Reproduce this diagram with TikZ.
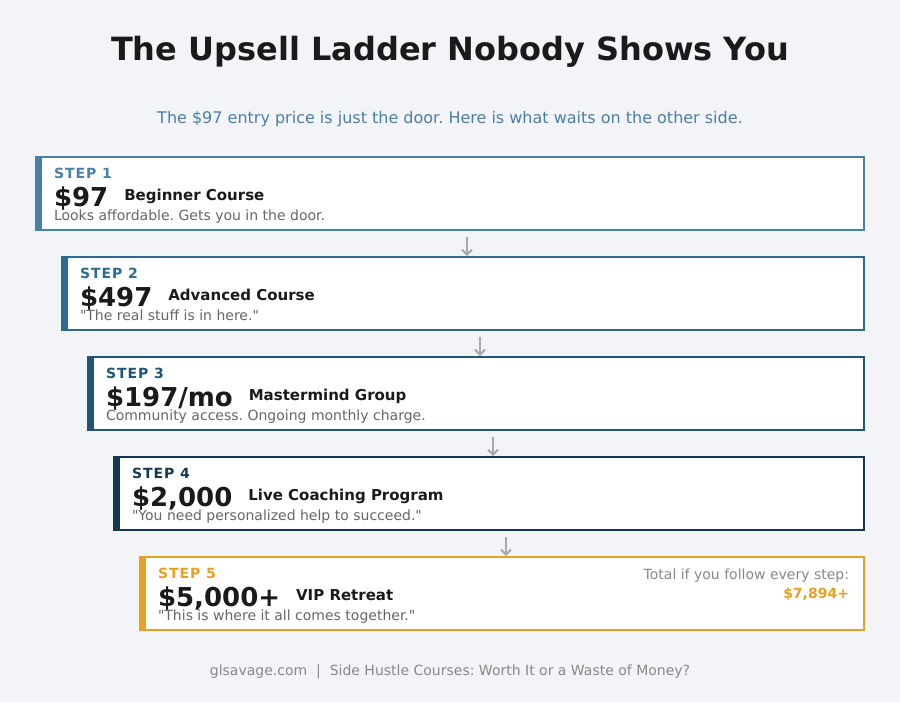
\documentclass[tikz,border=0pt]{standalone}
\usepackage{fontspec}
\setmainfont{DejaVu Sans}
\usetikzlibrary{positioning,arrows.meta}

\definecolor{pagebg}{HTML}{F2F4F7}
\definecolor{inkdark}{HTML}{1A1A1A}
\definecolor{subblue}{HTML}{4A7FA8}
\definecolor{stepone}{HTML}{4A7FA8}
\definecolor{steptwo}{HTML}{2D6A8F}
\definecolor{stepthree}{HTML}{1F5577}
\definecolor{stepfour}{HTML}{15374F}
\definecolor{stepfive}{HTML}{E8A020}
\definecolor{notegray}{HTML}{666666}
\definecolor{footgray}{HTML}{888888}
\definecolor{arrowgray}{HTML}{AAAAAA}

\def\fsz#1{\fontsize{#1}{#1}\selectfont}
\def\qq{\textquotedbl}
\frenchspacing

\begin{document}
\begin{tikzpicture}[x=1pt, y=-1pt,
    every node/.style={inner sep=0pt, outer sep=0pt},
    card/.style={draw=#1, fill=white, line width=1.5pt, anchor=north west,
                 minimum height=73pt, rectangle},
    steplabel/.style={anchor=base west, text=#1, font=\fsz{14}\bfseries\addfontfeature{LetterSpace=7}},
    price/.style={anchor=base west, text=inkdark, font=\fsz{26}\bfseries},
    course/.style={anchor=base west, text=inkdark, font=\fsz{15}\bfseries},
    note/.style={anchor=base west, text=notegray, font=\fsz{14}},
    flow/.style={draw=arrowgray, line width=2pt, -{Straight Barb[length=5pt, width=10pt, line width=2pt]}}]

  % page
  \fill[pagebg] (0,0) rectangle (900,702);
  \useasboundingbox (0,0) rectangle (900,702);

  % heading
  \node[anchor=base, text=inkdark, font=\fsz{32}\bfseries] (title) at (450,60) {The Upsell Ladder Nobody Shows You};
  \node[anchor=base, text=subblue, font=\fsz{16}] (subtitle) at (450,123) {The \$97 entry price is just the door. Here is what waits on the other side.};

  % step 1
  \node[card=stepone, minimum width=828pt] (box1) at (36,157) {};
  \fill[stepone] (box1.north west) rectangle ([xshift=6pt]box1.south west);
  \node[steplabel=stepone] (s1) at (54,178) {STEP 1};
  \node[price] (p1) at (54,206) {\$97};
  \node[course] (c1) at ([xshift=16pt, yshift=6pt]p1.base east) {Beginner Course};
  \node[note] (n1) at (54,220) {Looks affordable. Gets you in the door.};

  % step 2
  \node[card=steptwo, minimum width=802pt] (box2) at (62,257) {};
  \fill[steptwo] (box2.north west) rectangle ([xshift=6pt]box2.south west);
  \node[steplabel=steptwo] (s2) at (80,278) {STEP 2};
  \node[price] (p2) at (80,306) {\$497};
  \node[course] (c2) at ([xshift=16pt, yshift=6pt]p2.base east) {Advanced Course};
  \node[note] (n2) at (80,320) {\qq The real stuff is in here.\qq};

  % step 3
  \node[card=stepthree, minimum width=776pt] (box3) at (88,357) {};
  \fill[stepthree] (box3.north west) rectangle ([xshift=6pt]box3.south west);
  \node[steplabel=stepthree] (s3) at (106,378) {STEP 3};
  \node[price] (p3) at (106,406) {\$197/mo};
  \node[course] (c3) at ([xshift=16pt, yshift=6pt]p3.base east) {Mastermind Group};
  \node[note] (n3) at (106,420) {Community access. Ongoing monthly charge.};

  % step 4
  \node[card=stepfour, minimum width=750pt] (box4) at (114,457) {};
  \fill[stepfour] (box4.north west) rectangle ([xshift=6pt]box4.south west);
  \node[steplabel=stepfour] (s4) at (132,478) {STEP 4};
  \node[price] (p4) at (132,506) {\$2,000};
  \node[course] (c4) at ([xshift=16pt, yshift=6pt]p4.base east) {Live Coaching Program};
  \node[note] (n4) at (132,520) {\qq You need personalized help to succeed.\qq};

  % step 5
  \node[card=stepfive, minimum width=724pt] (box5) at (140,557) {};
  \fill[stepfive] (box5.north west) rectangle ([xshift=6pt]box5.south west);
  \node[steplabel=stepfive] (s5) at (158,578) {STEP 5};
  \node[price] (p5) at (158,606) {\$5,000+};
  \node[course] (c5) at ([xshift=16pt, yshift=6pt]p5.base east) {VIP Retreat};
  \node[note] (n5) at (158,620) {\qq This is where it all comes together.\qq};
  \node[anchor=base east, text=footgray, font=\fsz{14}] (totaltxt) at (849,579) {Total if you follow every step:};
  \node[anchor=base east, text=stepfive, font=\fsz{14}\bfseries] (totalsum) at (849,598) {\$7,894+};

  % arrows between steps
  \coordinate (a1) at (467,0);
  \coordinate (a2) at (480,0);
  \coordinate (a3) at (493,0);
  \coordinate (a4) at (506,0);
  \draw[flow] (box1.south -| a1) ++(0,7) -- ([yshift=1pt]box2.north -| a1);
  \draw[flow] (box2.south -| a2) ++(0,7) -- ([yshift=1pt]box3.north -| a2);
  \draw[flow] (box3.south -| a3) ++(0,7) -- ([yshift=1pt]box4.north -| a3);
  \draw[flow] (box4.south -| a4) ++(0,7) -- ([yshift=1pt]box5.north -| a4);

  % footer
  \node[anchor=base, text=footgray, font=\fsz{14}] (footer) at (450,675) {glsavage.com \ | \ Side Hustle Courses: Worth It or a Waste of Money?};
\end{tikzpicture}
\end{document}
